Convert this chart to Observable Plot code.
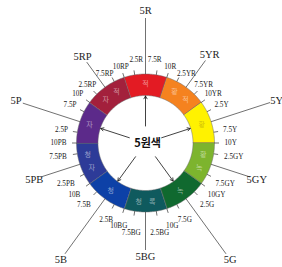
<!DOCTYPE html>
<html><head><meta charset="utf-8">
<script src="https://cdn.jsdelivr.net/npm/d3@7"></script>
<script src="https://cdn.jsdelivr.net/npm/@observablehq/plot@0.6"></script>
<style>body{margin:0;background:#fff}#chart svg{display:block}</style>
</head><body><div id="chart"></div>
<script>
// ---- data ----
const hues = ["R","YR","Y","GY","G","BG","B","PB","P","RP"];
const hueNames = ["적","황적","황","황녹","녹","청록","청","청자","자","적자"];
const hueColors = ["#e31b23","#f5821f","#fff200","#7db42e","#10692f","#0f5a5e","#0d41a7","#2d3b98","#5c2a8a","#a3203c"];
const steps = [2.5, 5, 7.5, 10];
const primaries = ["R","Y","G","B","P"];
const centerLabel = "5원색";

// ---- layout ----
const W = 282, H = 267, CX = 145, CY = 142.5;
const R_OUT = 69, R_IN = 47.5, R_MID = 59;
const FS = 7.2;
const majorLabelRadius = [132,109,138,117,144,114,144,117,136,107];
const rad = d => d * Math.PI / 180;
const hueAngle = (i, s) => i * 36 + (s - 5) * 3.6;
const px = (r, a) => r * Math.sin(rad(a));
const py = (r, a) => r * Math.cos(rad(a));
const charW = {"0":.5,"1":.5,"2":.5,"5":.5,"7":.5,".":.25,"R":.667,"Y":.722,"G":.722,"B":.667,"P":.556};
const textW = t => [...t].reduce((s, c) => s + (charW[c] || .6), 0) * FS;

// segments
const segMarks = hues.map((h, i) => {
  const pts = [];
  const a0 = i * 36 - 18, a1 = i * 36 + 18;
  for (let a = a0; a <= a1 + 1e-9; a += 1) pts.push({r: R_OUT, a});
  for (let a = a1; a >= a0 - 1e-9; a -= 1) pts.push({r: R_IN, a});
  return Plot.line(pts, {x: d => px(d.r, d.a), y: d => py(d.r, d.a), fill: hueColors[i],
    stroke: "#6a6a6a", strokeWidth: 0.5, curve: "linear-closed"});
});

// minor ticks and their labels
const minor = [];
hues.forEach((h, i) => steps.forEach(s => { if (s !== 5) minor.push({hue: h, i, s, a: hueAngle(i, s), label: s + h}); }));
minor.forEach(d => {
  let a = d.a > 180 ? d.a - 360 : d.a;
  const ca0 = Math.cos(rad(a));
  if (ca0 > 0.95 && d.s !== 10) a *= 0.7;
  else if (ca0 > 0.85 && ca0 <= 0.95 && d.s !== 10) a += Math.sign(a) * 3.5;
  d.la = a;
  const s = Math.abs(Math.sin(rad(a))), c = Math.cos(rad(a));
  const hw = textW(d.label) / 2, hh = 4;
  let dist = 79 - 3.5 * c + (s < 0.2 ? 4.5 : 0);
  d.r = dist + Math.min(s > 1e-6 ? hw / s : 1e9, Math.abs(c) > 1e-6 ? hh / Math.abs(c) : 1e9);
});
const majors = hues.map((h, i) => ({hue: h, i, a: i * 36, label: "5" + h, r: majorLabelRadius[i]}));

// hue name characters inside ring
const nameChars = [];
hues.forEach((h, i) => {
  const chars = [...hueNames[i]];
  const a = i * 36;
  if (chars.length === 1) nameChars.push({ch: chars[0], a, i});
  else {
    const dir = (a > 0 && a < 180) ? 1 : -1;
    nameChars.push({ch: chars[0], a: a - dir * 6.5, i});
    nameChars.push({ch: chars[1], a: a + dir * 6.5, i});
  }
});

const arrows = primaries.map(p => ({a: hues.indexOf(p) * 36}));

const chart = Plot.plot({
  width: W, height: H,
  margin: 0,
  x: {domain: [-CX, W - CX], range: [0, W], axis: null},
  y: {domain: [CY - H, CY], range: [H, 0], axis: null},
  style: {background: "#fff"},
  marks: [
    ...segMarks,
    Plot.link(minor, {x1: d => px(R_OUT, d.a), y1: d => py(R_OUT, d.a), x2: d => px(R_OUT + 4.5, d.a), y2: d => py(R_OUT + 4.5, d.a),
      stroke: "#333", strokeWidth: 0.7}),
    Plot.text(minor, {x: d => px(d.r, d.la), y: d => py(d.r, d.la), text: "label",
      fontSize: FS, fontFamily: "Liberation Serif", fill: "#222"}),
    Plot.link(majors, {x1: d => px(R_OUT, d.a), y1: d => py(R_OUT, d.a), x2: d => px(d.r - 7, d.a), y2: d => py(d.r - 7, d.a),
      stroke: "#333", strokeWidth: 0.7}),
    Plot.text(majors, {x: d => px(d.r, d.a), y: d => py(d.r, d.a), text: "label",
      fontSize: 10.5, fontFamily: "Liberation Serif", fill: "#222"}),
    Plot.text(nameChars, {x: d => px(R_MID, d.a), y: d => py(R_MID, d.a), text: "ch",
      fontSize: 7, fontFamily: "Noto Sans CJK KR",
      fill: d => hues[d.i] === "Y" ? "#9a8a10" : "#ffffff", fillOpacity: 0.5}),
    Plot.arrow(arrows, {x1: d => px(17, d.a), y1: d => py(17, d.a), x2: d => px(R_IN - 0.5, d.a), y2: d => py(R_IN - 0.5, d.a),
      stroke: "#111", strokeWidth: 0.8, headLength: 6}),
    Plot.text([centerLabel], {x: () => 2, y: () => 0, text: d => d, fontSize: 11, fontWeight: "bold",
      fontFamily: "Noto Sans CJK KR", fill: "#111"})
  ]
});
document.getElementById("chart").append(chart);
</script>
</body></html>
